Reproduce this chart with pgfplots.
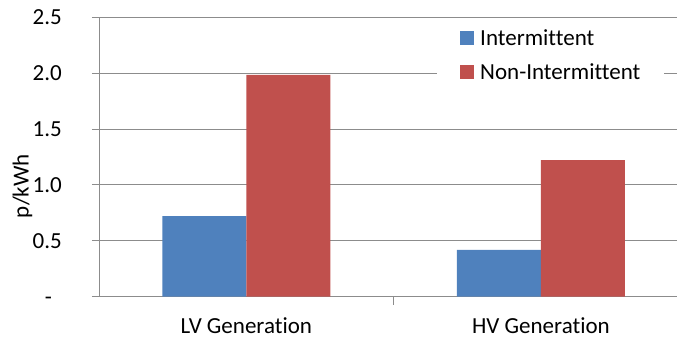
\documentclass[border=0pt]{standalone}
\usepackage{pgfplots}
\pgfplotsset{compat=1.18}
\usepackage{fontspec}
\setmainfont{Carlito}[Ligatures=NoCommon]
\definecolor{xblue}{HTML}{4F81BD}
\definecolor{xred}{HTML}{C0504D}
\definecolor{xgrid}{HTML}{8C8C8C}
\begin{document}
\begin{tikzpicture}[font=\fontsize{23bp}{27bp}\selectfont]
\begin{axis}[
 scale only axis, width=577bp, height=279bp,
 xmin=-0.497, xmax=1.462, ymin=0, ymax=2.5,
 enlargelimits=false,
 ybar, bar width=84bp,
 axis x line*=bottom, axis y line*=left,
 axis line style={xgrid, line width=1bp},
 ytick={0,0.5,1,1.5,2,2.5},
 yticklabels={{-\kern10bp},0.5,1.0,1.5,2.0,2.5},
 xtick={0,1}, xticklabels={LV Generation, HV Generation},
 minor xtick={-0.5,0.5,1.5},
 tick align=outside, major tick length=8bp, minor tick length=8bp,
 every major x tick/.append style={draw=none},
 tick style={xgrid, line width=1bp},
 ymajorgrids, grid style={xgrid, line width=1bp},
 yticklabel style={anchor=east, inner sep=0pt, text height=15bp, text depth=0pt, xshift=-30bp},
 xticklabel style={anchor=north, inner sep=0pt, text height=15bp, text depth=5bp, yshift=-14bp},
 ylabel={p/kWh},
 every axis y label/.style={at={(axis description cs:-0.1343,0.396)}, rotate=90, anchor=center},
 legend style={at={(axis description cs:0.5832,0.9803)}, anchor=north west, draw=none, fill=white,
   inner xsep=23.5bp, inner ysep=4bp, row sep=12bp, column sep=6bp,
   nodes={inner sep=0pt, text height=18bp, text depth=4bp}},
 legend cell align=left,
]
\addplot[fill=xblue, draw=none, bar shift=-42bp,
  legend image code/.code={\fill[xblue] (0bp,-7bp) rectangle (14bp,7bp);}]
  coordinates {(0,0.721) (1,0.417)};
\addplot[fill=xred, draw=none, bar shift=42bp,
  legend image code/.code={\fill[xred] (0bp,-7bp) rectangle (14bp,7bp);}]
  coordinates {(0,1.985) (1,1.223)};
\legend{Intermittent, Non-Intermittent}
\end{axis}
\pgfresetboundingbox
\useasboundingbox (-100bp,-41.5bp) rectangle (577bp,296.5bp);
\end{tikzpicture}
\end{document}
